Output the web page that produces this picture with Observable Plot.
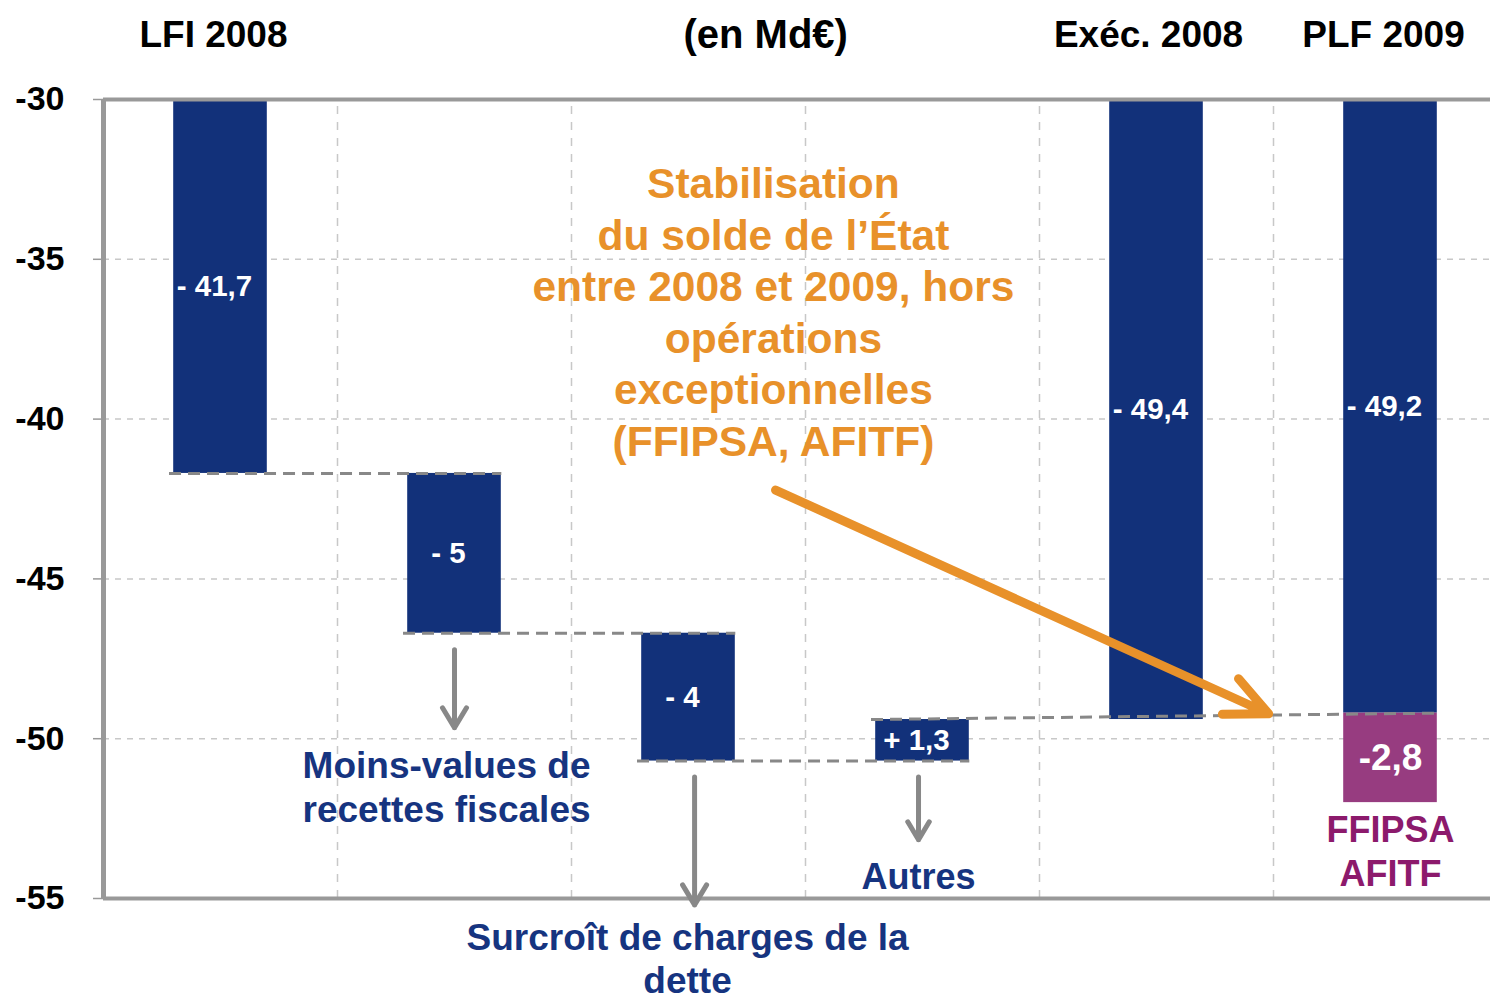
<!DOCTYPE html>
<html><head><meta charset="utf-8">
<script src="https://cdn.jsdelivr.net/npm/d3@7"></script>
<script src="https://cdn.jsdelivr.net/npm/@observablehq/plot@0.6"></script>
<style>
html,body{margin:0;padding:0;background:#fff;overflow:hidden;}
#chart svg{display:block;overflow:hidden;}
</style></head><body><div id="chart"></div>
<script>
// ---- data ----
const categories = ["LFI 2008", "Moins-values de recettes fiscales", "Surcroît de charges de la dette", "Autres", "Exéc. 2008", "PLF 2009"];
const values = [-41.7, -5, -4, 1.3, -49.4, -49.2];
const kinds = ["total", "delta", "delta", "delta", "total", "total"];
const valueLabels = ["- 41,7", "- 5", "- 4", "+ 1,3", "- 49,4", "- 49,2"];
const baseline = -30;
const yDomain = [-55, -30];
const yTicks = [-30, -35, -40, -45, -50, -55];
const headerLabels = ["LFI 2008", "(en Md€)", "Exéc. 2008", "PLF 2009"];
const headerX = [0.47, 2.83, 4.466, 5.47];
const headerSizes = [37, 40, 37, 37];
const exceptionalValue = -2.8;
const exceptionalLabel = "-2,8";
const exceptionalNames = "FFIPSA\nAFITF";
const orangeNote = "Stabilisation\ndu solde de l’État\nentre 2008 et 2009, hors\nopérations\nexceptionnelles\n(FFIPSA, AFITF)";
const causeLabels = ["Moins-values de\nrecettes fiscales", "Surcroît de charges de la\ndette", "Autres"];
const causeSizes = [37, 37, 36];
const causeLineHeights = [1.19, 1.15, 1.19];
const causeX = [1.466, 2.496, 3.483];
const causeY = [-51.47, -56.85, -54.28];
const causeArrowX = [1.5, 2.526, 3.483];
const causeArrowY1 = [-47.22, -51.2, -51.2];
const causeArrowY2 = [-49.66, -55.2, -53.16];
const noteArrow = {x1: 2.872, y1: -42.22, x2: 4.979, y2: -49.22};
const noteCenter = {x: 2.863, y: -36.6};

// ---- styles ----
const navy = "#12317a";
const purple = "#973c80";
const purpleText = "#8c1a6c";
const orange = "#e8912a";
const blueText = "#163480";
const halfW = 0.2;

// ---- waterfall ----
let running = baseline;
const bars = values.map((v, i) => {
  let y1, y2;
  if (kinds[i] === "total") { y1 = baseline; y2 = v; }
  else { y1 = running; y2 = running + v; }
  running = y2;
  return {i, cat: categories[i], y1, y2, label: valueLabels[i], mid: (y1 + y2) / 2};
});
const connectors = [0, 1, 2].map(i => ({
  x1: i + 0.5 - halfW - 0.02, x2: i + 1.5 + halfW, y1: bars[i].y2, y2: bars[i].y2
}));
connectors.push({x1: 3.5 - halfW - 0.02, x2: 5.5 + halfW + 0.01, y1: bars[3].y2, y2: bars[5].y2});
const exc = {x: 5.5, y1: values[5], y2: values[5] + exceptionalValue};
exc.mid = (exc.y1 + exc.y2) / 2;

const headers = headerLabels.map((t, k) => ({t, x: headerX[k], y: -28.0, s: headerSizes[k]}));
const causes = causeLabels.map((t, k) => ({t, x: causeX[k], y: causeY[k], s: causeSizes[k], lh: causeLineHeights[k]}));
const causeArrows = causeArrowX.map((x, k) => ({x, y1: causeArrowY1[k], y2: causeArrowY2[k]}));

const chart = Plot.plot({
  width: 1490,
  height: 998,
  marginTop: 99,
  marginBottom: 100,
  marginLeft: 103,
  marginRight: 0,
  style: {fontFamily: "'Liberation Sans', Arial, sans-serif", fontWeight: "bold", background: "#fff", color: "#000"},
  x: {type: "linear", domain: [0, 6], range: [103, 1507], axis: null},
  y: {domain: yDomain, range: [898, 99], axis: null},
  marks: [
    Plot.ruleY(yTicks.filter(t => t !== -30 && t !== -55), {stroke: "#c8c8c8", strokeWidth: 1.5, strokeDasharray: "6,6"}),
    Plot.ruleX([1, 2, 3, 4, 5], {y1: yDomain[0], y2: yDomain[1], stroke: "#c8c8c8", strokeWidth: 1.5, strokeDasharray: "8,8"}),
    Plot.rect(bars, {x1: d => d.i + 0.5 - halfW, x2: d => d.i + 0.5 + halfW, y1: "y1", y2: "y2", fill: navy}),
    Plot.rect([exc], {x1: d => d.x - halfW, x2: d => d.x + halfW, y1: "y1", y2: "y2", fill: purple}),
    Plot.link(connectors, {x1: "x1", x2: "x2", y1: "y1", y2: "y2", stroke: "#888", strokeWidth: 3, strokeDasharray: "12,7"}),
    Plot.ruleY([yDomain[1], yDomain[0]], {stroke: "#999", strokeWidth: 4}),
    Plot.ruleX([0], {y1: yDomain[0], y2: yDomain[1], stroke: "#999", strokeWidth: 5}),
    Plot.axisY({ticks: yTicks, tickSize: 10, tickPadding: 29, stroke: "#999", strokeWidth: 1.5, fontSize: 34, fontWeight: "bold", fill: "#000", tickFormat: d => String(d)}),
    Plot.text(bars, {x: d => d.i + 0.5, y: "mid", text: "label", fill: "#fff", fontSize: 29.5, fontWeight: "bold", dx: -6}),
    Plot.text([exc], {x: "x", y: "mid", text: () => exceptionalLabel, fill: "#fff", fontSize: 37, fontWeight: "bold"}),
    Plot.text([exc], {x: "x", y: d => d.y2 - 1.47, text: () => exceptionalNames, fill: purpleText, fontSize: 36, fontWeight: "bold", lineHeight: 1.22}),
    Plot.arrow(causeArrows, {x: "x", y1: "y1", y2: "y2", stroke: "#888", strokeWidth: 5, headLength: 7, headAngle: 62, strokeLinecap: "round"}),
    ...causes.map(c => Plot.text([c], {x: "x", y: "y", text: "t", fill: blueText, fontSize: c.s, fontWeight: "bold", lineHeight: c.lh})),
    Plot.arrow([noteArrow], {x1: "x1", y1: "y1", x2: "x2", y2: "y2", stroke: orange, strokeWidth: 9, headLength: 7.7, headAngle: 50, strokeLinecap: "round", strokeLinejoin: "round"}),
    Plot.text([noteCenter], {x: "x", y: "y", text: () => orangeNote, fill: orange, fontSize: 42.5, fontWeight: "bold", lineHeight: 1.215}),
    Plot.text(headers, {x: "x", y: "y", text: "t", fill: "#000", fontSize: d => d.s, fontWeight: "bold"})
  ]
});
document.getElementById("chart").appendChild(chart);
</script></body></html>
